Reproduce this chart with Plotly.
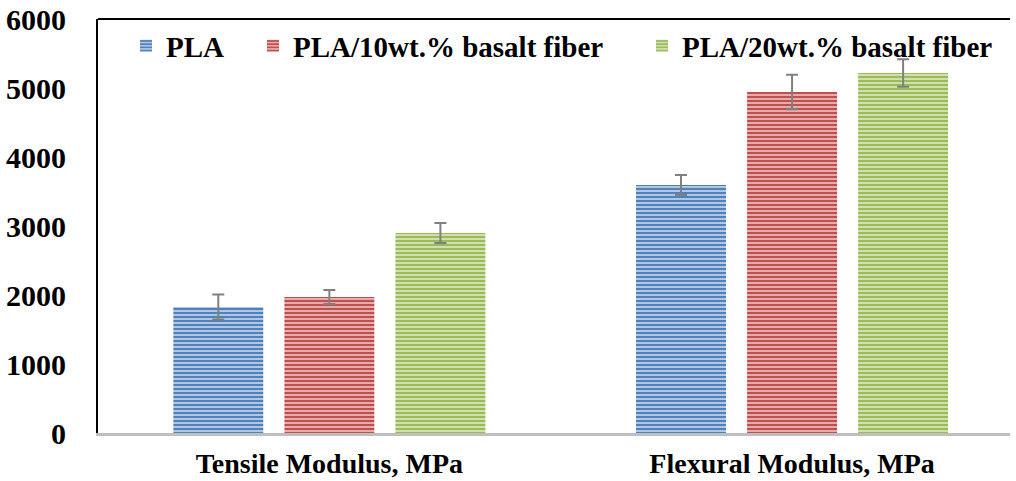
import plotly.graph_objects as go

categories = ["Tensile Modulus, MPa", "Flexural Modulus, MPa"]
series_names = ["PLA", "PLA/10wt.% basalt fiber", "PLA/20wt.% basalt fiber"]
pla = [1826, 3594]
pla_err = [180, 145]
pla10 = [1971, 4942]
pla10_err = [100, 250]
pla20 = [2899, 5217]
pla20_err = [145, 200]
y_ticks = [0, 1000, 2000, 3000, 4000, 5000, 6000]

fg = ["#4F81BD", "#C0504D", "#9BBB59"]
bg = ["#B0C6E3", "#E6ABAA", "#CFE0AC"]
values = [pla, pla10, pla20]
errs = [pla_err, pla10_err, pla20_err]
legends = ["legend", "legend2", "legend3"]

FONT = "Liberation Serif"
W, H = 1016, 481
ml, mr, mt, mb = 98, 6, 19, 48

fig = go.Figure()
for i in range(3):
    fig.add_trace(go.Bar(
        x=categories, y=values[i], name=series_names[i],
        marker=dict(color=bg[i], line=dict(width=0),
                    pattern=dict(shape="-", fgcolor=fg[i], bgcolor=bg[i],
                                 size=4, solidity=0.5, fillmode="replace")),
        error_y=dict(type="data", array=errs[i], color="#808080",
                     thickness=2, width=6),
        legend=legends[i],
    ))

pw = W - ml - mr
def px2paper(x):
    return (x - ml) / pw

leg_common = dict(orientation="h", yanchor="middle", y=0.935, xanchor="left",
                  bgcolor="rgba(0,0,0,0)", borderwidth=0,
                  font=dict(family=FONT, size=29, color="black", weight="bold"),
                  itemwidth=30)
fig.update_layout(
    width=W, height=H,
    margin=dict(l=ml, r=mr, t=mt, b=mb, pad=0, autoexpand=False),
    paper_bgcolor="white", plot_bgcolor="white",
    barmode="group", bargap=0.28, bargroupgap=0.19,
    showlegend=True,
    legend=dict(leg_common, x=px2paper(126)),
    legend2=dict(leg_common, x=px2paper(253)),
    legend3=dict(leg_common, x=px2paper(642)),
    xaxis=dict(range=[-0.5, 1.471], showline=True, linecolor="#BFBFBF",
               linewidth=3, ticks="", showgrid=False, zeroline=False,
               automargin=False,
               tickfont=dict(family=FONT, size=28, color="black", weight="bold"),
               ticklabelstandoff=3),
    yaxis=dict(range=[0, 6000], tickvals=y_ticks, showline=True,
               linecolor="black", linewidth=2, ticks="", showgrid=False,
               zeroline=False, automargin=False,
               tickfont=dict(family=FONT, size=30, color="black", weight="bold"),
               ticklabelstandoff=24),
    shapes=[dict(type="line", xref="paper", yref="paper", x0=0, x1=1,
                 y0=1, y1=1, line=dict(color="black", width=2))],
)

fig.write_html("out.html")
